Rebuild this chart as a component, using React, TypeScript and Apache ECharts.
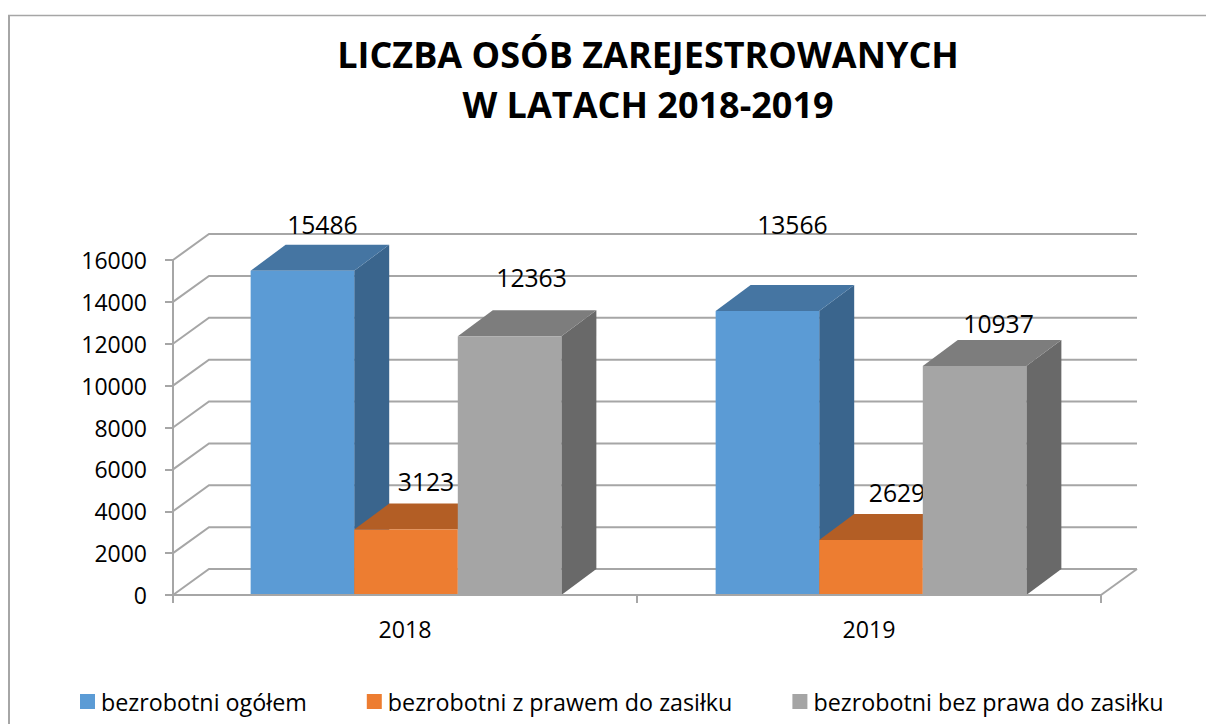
import React, { useEffect, useRef } from "react";
import * as echarts from "echarts";

const titleLines = ["LICZBA OSÓB ZAREJESTROWANYCH", "W LATACH 2018-2019"];
const categories = ["2018", "2019"];
const seriesNames = ["bezrobotni ogółem", "bezrobotni z prawem do zasiłku", "bezrobotni bez prawa do zasiłku"];
const ogolem = [15486, 13566];
const zPrawem = [3123, 2629];
const bezPrawa = [12363, 10937];
const yTicks = [0, 2000, 4000, 6000, 8000, 10000, 12000, 14000, 16000];

// Layout / styling (kept separate from the data)
const DX = 36;
const DY = 26;
const BAR_DX = 35;
const GRID_COLOR = "#a6a6a6";
const FONT = "Open Sans, Lato, sans-serif";
const palettes = [
  { front: "#5b9bd5", top: "#4575a2", side: "#3a658d" },
  { front: "#ed7d31", top: "#b35e25", side: "#9a5120" },
  { front: "#a5a5a5", top: "#7d7d7d", side: "#696969" },
];
const groupShift = [1, 2];
const labelOffsets = [
  [[20, -46], [25, -86]],
  [[20, -48], [26, -47]],
  [[22, -59], [24, -43]],
];

function barSeries(name: string, values: number[], idx: number) {
  const pal = palettes[idx];
  return {
    type: "custom",
    name,
    z: 3 + idx,
    clip: false,
    itemStyle: { color: pal.front },
    encode: { x: 0, y: 1 },
    data: values.map((v, i) => [i, v]),
    renderItem: (params: any, api: any) => {
      const cat = api.value(0);
      const val = api.value(1);
      const band = api.size([1, 0])[0];
      const w = band / 4.48;
      const cx = api.coord([cat, 0])[0] + groupShift[params.dataIndex] + (idx - 1) * w;
      const [, y0] = api.coord([cat, 0]);
      const [, y1] = api.coord([cat, val]);
      const xl = cx - w / 2;
      const xr = cx + w / 2;
      const off = labelOffsets[idx][params.dataIndex];
      return {
        type: "group",
        children: [
          {
            type: "polygon",
            shape: { points: [[xr, y1], [xr + BAR_DX, y1 - DY], [xr + BAR_DX, y0 - DY], [xr, y0]] },
            style: { fill: pal.side },
          },
          {
            type: "polygon",
            shape: { points: [[xl, y1], [xl + BAR_DX, y1 - DY], [xr + BAR_DX, y1 - DY], [xr, y1]] },
            style: { fill: pal.top },
          },
          {
            type: "rect",
            shape: { x: xl, y: y1, width: w, height: y0 - y1 },
            style: { fill: pal.front },
          },
          {
            type: "text",
            z2: 50,
            style: {
              text: String(val),
              x: cx + off[0],
              y: y1 + off[1],
              align: "center",
              verticalAlign: "middle",
              fill: "#000",
              font: `24.7px ${FONT}`,
            },
          },
        ],
      };
    },
  };
}

export default function App() {
  const ref = useRef<HTMLDivElement>(null);
  useEffect(() => {
    document.body.style.margin = "0";
    document.body.style.overflow = "hidden";
    const chart = echarts.init(ref.current!, undefined, { renderer: "svg" });
    chart.setOption({
      animation: false,
      backgroundColor: "#fff",
      title: {
        text: titleLines.join("\n"),
        left: 643,
        top: 24,
        textAlign: "center",
        textStyle: { fontFamily: FONT, fontWeight: "bold", fontSize: 36, lineHeight: 50, color: "#000" },
      },
      legend: {
        data: seriesNames,
        left: 75,
        top: 685,
        icon: "rect",
        itemWidth: 15,
        itemHeight: 15,
        itemGap: 60,
        textStyle: { fontFamily: FONT, fontSize: 23.3, color: "#000", padding: [0, 0, 0, 1] },
      },
      grid: { left: 173, right: 105, top: 260, bottom: 129, containLabel: false },
      xAxis: {
        type: "category",
        data: categories,
        z: 20,
        axisLine: { lineStyle: { color: GRID_COLOR, width: 2 } },
        axisTick: { show: true, length: 8, lineStyle: { color: GRID_COLOR, width: 2 } },
        axisLabel: { margin: 22, fontFamily: FONT, fontSize: 23.2, color: "#000" },
        splitLine: { show: false },
      },
      yAxis: {
        type: "value",
        min: 0,
        max: 16000,
        interval: 2000,
        z: 20,
        axisLine: { show: true, lineStyle: { color: GRID_COLOR, width: 2 } },
        axisTick: { show: true, length: 8, lineStyle: { color: GRID_COLOR, width: 2 } },
        axisLabel: { margin: 26, fontFamily: FONT, fontSize: 23, color: "#000", formatter: (v: number) => String(v) },
        splitLine: { show: false },
      },
      series: [
        {
          type: "custom",
          name: "walls",
          z: 1,
          silent: true,
          clip: false,
          encode: { x: 0, y: 1 },
          data: yTicks.map((t) => [0, t]),
          renderItem: (params: any, api: any) => {
            const cs = params.coordSys;
            const y = api.coord([0, api.value(1)])[1];
            const left = cs.x;
            const right = cs.x + cs.width;
            const children: any[] = [
              {
                type: "polyline",
                shape: { points: [[left, y], [left + DX, y - DY], [right + DX, y - DY]] },
                style: { fill: "none", stroke: GRID_COLOR, lineWidth: 2 },
              },
            ];
            if (api.value(1) === 0) {
              children.push({
                type: "line",
                shape: { x1: right + DX, y1: y - DY, x2: right, y2: y },
                style: { stroke: GRID_COLOR, lineWidth: 2 },
              });
            }
            return { type: "group", children };
          },
        },
        barSeries(seriesNames[0], ogolem, 0),
        barSeries(seriesNames[1], zPrawem, 1),
        barSeries(seriesNames[2], bezPrawa, 2),
      ],
      graphic: [
        {
          type: "line",
          shape: { x1: 8, y1: 15.5, x2: 1206, y2: 15.5 },
          style: { stroke: GRID_COLOR, lineWidth: 1.5 },
        },
        {
          type: "line",
          shape: { x1: 9, y1: 15, x2: 9, y2: 724 },
          style: { stroke: GRID_COLOR, lineWidth: 2 },
        },
      ],
    });
    return () => chart.dispose();
  }, []);
  return <div ref={ref} style={{ width: 1206, height: 724 }} />;
}
